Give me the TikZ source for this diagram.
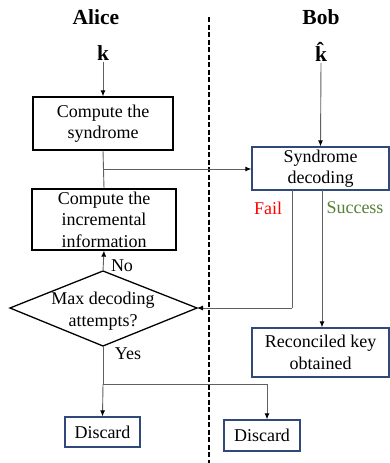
\documentclass[tikz,border=0pt]{standalone}
\usepackage{fontspec}
\setmainfont{Liberation Serif}
\usetikzlibrary{arrows.meta}
\definecolor{bobblue}{HTML}{2F4A78}
\definecolor{conn}{HTML}{606060}
\definecolor{failred}{HTML}{FF0000}
\definecolor{succgreen}{HTML}{548235}
\tikzset{
  txt/.style={font=\fontsize{18}{21.5}\selectfont, align=center},
  abox/.style={txt, draw=black, line width=1.3pt, inner sep=0pt},
  bbox/.style={txt, draw=bobblue, line width=1.3pt, inner sep=0pt},
  title/.style={font=\fontsize{21.5}{24}\selectfont\bfseries},
  conline/.style={draw=conn, line width=0.9pt},
  conarrow/.style={conline, -{Latex[length=6pt,width=5pt,color=black]}},
}
\begin{document}
\begin{tikzpicture}[x=1pt,y=-1pt]
\useasboundingbox (0,0) rectangle (390,463);
% titles
\node[title] (alice) at (96,17) {Alice};
\node[title] (bob) at (321,17) {Bob};
\node[title, inner sep=1pt] (k) at (103,53) {k};
\node[title, inner sep=1pt] (kh) at (321,52) {\^k};
% separator
\coordinate (dtop) at (209,17);
\coordinate (dbot) at (209,463);
\draw[black, line width=1.2pt, dash pattern=on 5pt off 2.5pt] (dtop) -- (dbot);
% Alice boxes
\node[abox, minimum width=140, minimum height=53] (syn) at (103,123.5) {Compute the\\syndrome};
\node[abox, minimum width=144, minimum height=61] (inc) at (104,219.5) {Compute the\\incremental\\information};
\coordinate (dT) at (103,271);
\coordinate (dB) at (103,346);
\coordinate (dL) at (10,308);
\coordinate (dR) at (197,308);
\draw[black, line width=1.3pt, line join=miter] (dT) -- (dR) -- (dB) -- (dL) -- cycle;
\node[txt] (diatext) at (103,311) {Max decoding\\attempts?};
% Bob boxes
\node[bbox, minimum width=137, minimum height=43] (dec) at (320.5,168.5) {Syndrome\\decoding};
\node[bbox, minimum width=137, minimum height=49] (rec) at (320.5,352.5) {Reconciled key\\obtained};
\node[bbox, minimum width=75, minimum height=30] (dis1) at (102.5,432) {Discard};
\node[bbox, minimum width=76, minimum height=31] (dis2) at (262,435.5) {Discard};
% labels
\node[txt, text=failred] (fail) at (268,208) {Fail};
\node[txt, text=succgreen] (succ) at (355,208) {Success};
\node[txt] (no) at (122,266) {No};
\node[txt] (yes) at (128,354) {Yes};
% connectors
\coordinate (j1) at (103,169);
\coordinate (j2) at (103,384);
\coordinate (j3) at (267,384);
\coordinate (f1) at (292,190);
\coordinate (f2) at (292,308);
\coordinate (s1) at (322,190);
\draw[conarrow] (k.south) -- (syn.north);
\draw[conarrow] (kh.south) -- (dec.north);
\draw[conline] (syn.south) -- (inc.north);
\draw[conarrow] (j1) -- (dec.west |- j1);
\draw[conarrow] (dT) -- (inc.south);
\draw[conline] (f1) -- (f2);
\draw[conarrow] (f2) -- (dR);
\draw[conarrow] (s1) -- (rec.north -| s1);
\draw[conline] (dB) -- (j2) -- (j3);
\draw[conarrow] (j2) -- (dis1.north);
\draw[conarrow] (j3) -- (dis2.north -| j3);
\end{tikzpicture}
\end{document}
